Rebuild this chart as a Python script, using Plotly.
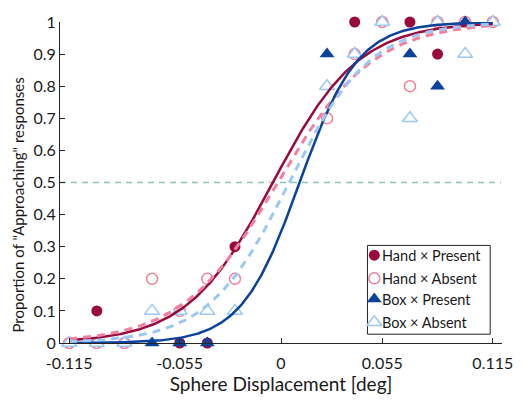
import numpy as np
import plotly.graph_objects as go

# Sphere displacement levels (deg)
displacement = [-0.115, -0.1, -0.085, -0.07, -0.055, -0.04, -0.025,
                0.025, 0.04, 0.055, 0.07, 0.085, 0.1, 0.115]

# Proportion of "Approaching" responses per condition
hand_present = [0, 0.1, 0, 0.2, 0, 0, 0.3, 0.7, 1.0, 1.0, 1.0, 0.9, 1.0, 1.0]
hand_absent = [0, 0, 0, 0.2, 0.1, 0.2, 0.2, 0.7, 0.9, 1.0, 0.8, 1.0, 1.0, 1.0]
box_present = [0, 0, 0, 0, 0, 0, 0.1, 0.9, 0.9, 1.0, 0.9, 0.8, 1.0, 1.0]
box_absent = [0, 0, 0, 0.1, 0.1, 0.1, 0.1, 0.8, 0.9, 1.0, 0.7, 1.0, 0.9, 1.0]

# Fitted logistic psychometric functions: (PSE, slope scale)
fit_hand_present = (-0.0044, 0.0233)
fit_hand_absent = (-0.0018, 0.026)
fit_box_present = (0.0101, 0.0158)
fit_box_absent = (0.0044, 0.022)

condition_names = ["Hand × Present", "Hand × Absent", "Box × Present", "Box × Absent"]

x_ticks = [-0.115, -0.055, 0, 0.055, 0.115]
x_tick_labels = ["-0.115", "-0.055", "0", "0.055", "0.115"]
y_ticks = [0, 0.1, 0.2, 0.3, 0.4, 0.5, 0.6, 0.7, 0.8, 0.9, 1]
y_tick_labels = ["0", "0.1", "0.2", "0.3", "0.4", "0.5", "0.6", "0.7", "0.8", "0.9", "1"]

DARK_RED = "#990a3d"
PINK = "#f0809c"
DARK_BLUE = "#0a429c"
LIGHT_BLUE = "#9cc8f4"
AXIS = "#262626"
TEXT = "#1a1a1a"
FONT = "Lato"

styles = [
    dict(symbol="circle", size=11, color=DARK_RED, line=dict(width=0)),
    dict(symbol="circle", size=11, color="white", line=dict(width=1.5, color=PINK)),
    dict(symbol="triangle-up", size=13, color=DARK_BLUE, line=dict(width=0)),
    dict(symbol="triangle-up", size=13, color="white", line=dict(width=1.5, color=LIGHT_BLUE)),
]

fig = go.Figure()

# Chance-level reference line
fig.add_shape(type="line", xref="x", yref="y", x0=-0.12, x1=0.1195, y0=0.5, y1=0.5,
              line=dict(color="#8dc4b6", width=1.5, dash="6px,5px"), layer="below")

# Observed proportions
for name, values, style in zip(condition_names,
                               [hand_present, hand_absent, box_present, box_absent], styles):
    fig.add_trace(go.Scatter(x=displacement, y=values, mode="markers", name=name,
                             marker=style, cliponaxis=False, showlegend=False))

# Psychometric curves
xs = np.linspace(-0.115, 0.115, 300)


def logistic(x, pse, scale):
    return 1.0 / (1.0 + np.exp(-(x - pse) / scale))


for params, color, dash, width in [
    (fit_hand_present, DARK_RED, "solid", 2.5),
    (fit_hand_absent, PINK, "8px,6px", 3),
    (fit_box_present, DARK_BLUE, "solid", 2.5),
    (fit_box_absent, LIGHT_BLUE, "8px,6px", 3),
]:
    fig.add_trace(go.Scatter(x=xs, y=logistic(xs, *params), mode="lines", showlegend=False,
                             hoverinfo="skip", line=dict(color=color, width=width, dash=dash)))

# Compact legend drawn on an overlay axis spanning the plot area in [0, 1] units
box_x0, box_x1, box_y0, box_y1 = 0.6956, 0.9733, 0.0274, 0.304
fig.add_trace(go.Scatter(x=[box_x0, box_x1, box_x1, box_x0, box_x0],
                         y=[box_y0, box_y0, box_y1, box_y1, box_y0],
                         xaxis="x2", yaxis="y2", mode="lines", fill="toself",
                         fillcolor="white", line=dict(color=AXIS, width=1),
                         showlegend=False, hoverinfo="skip"))
row_y = [0.2736, 0.2015, 0.1368, 0.0647]
key_x = 0.7111
for name, yy, style in zip(condition_names, row_y, styles):
    fig.add_trace(go.Scatter(x=[key_x], y=[yy], xaxis="x2", yaxis="y2", mode="markers",
                             marker=style, showlegend=False, hoverinfo="skip"))
    fig.add_annotation(xref="paper", yref="paper", x=0.7235, y=yy, text=name,
                       showarrow=False, xanchor="left", yanchor="middle",
                       font=dict(family=FONT, size=14.5, color=TEXT))

# Vertical axis label
fig.add_annotation(xref="paper", yref="paper", x=-0.096, y=0.43, textangle=-90,
                   text='Proportion of "Approaching" responses', showarrow=False,
                   xanchor="center", yanchor="middle",
                   font=dict(family=FONT, size=15, color=TEXT))

fig.update_layout(
    width=525, height=405,
    margin=dict(l=60, r=15, t=14, b=62),
    paper_bgcolor="white", plot_bgcolor="white",
    font=dict(family=FONT, size=16, color=TEXT),
    showlegend=False,
    xaxis=dict(range=[-0.12, 0.12], tickvals=x_ticks, ticktext=x_tick_labels,
               ticks="inside", ticklen=5, tickcolor=AXIS, showline=True,
               linecolor=AXIS, linewidth=1, showgrid=False, zeroline=False,
               ticklabelstandoff=6,
               title=dict(text="Sphere Displacement [deg]", standoff=6),
               tickfont=dict(size=16)),
    yaxis=dict(range=[0, 1], tickvals=y_ticks, ticktext=y_tick_labels,
               ticks="inside", ticklen=5, tickcolor=AXIS, showline=True,
               linecolor=AXIS, linewidth=1, showgrid=False, zeroline=False,
               tickfont=dict(size=16)),
    xaxis2=dict(overlaying="x", range=[0, 1], visible=False, anchor="y2"),
    yaxis2=dict(overlaying="y", range=[0, 1], visible=False, anchor="x2"),
)

fig.write_html("out.html")
